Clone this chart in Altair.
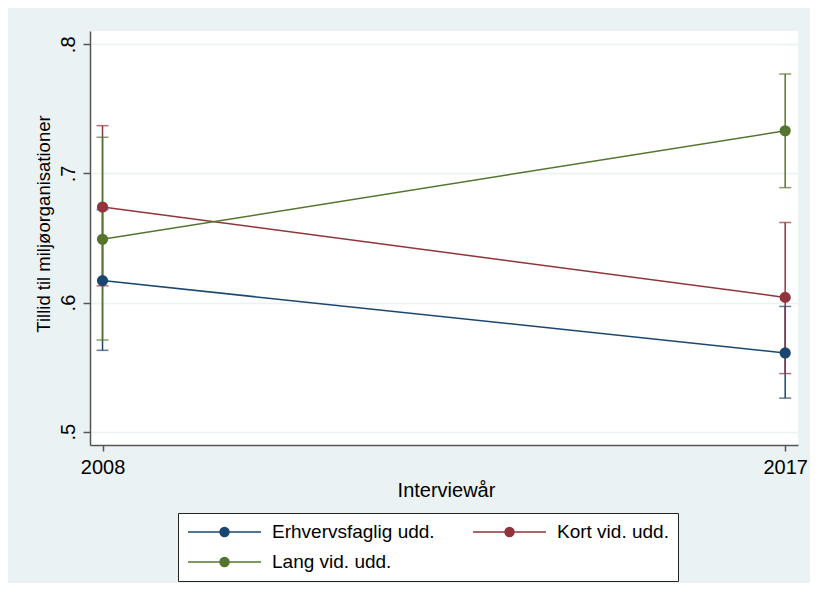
import altair as alt
import pandas as pd

# ---- data ----
years = [2008, 2017]
groups = ["Erhvervsfaglig udd.", "Kort vid. udd.", "Lang vid. udd."]
colors = ["#1a476f", "#90353b", "#55752f"]

erhverv_mean = [0.617, 0.561]
erhverv_lo = [0.563, 0.526]
erhverv_hi = [0.672, 0.597]

kort_mean = [0.674, 0.604]
kort_lo = [0.613, 0.545]
kort_hi = [0.737, 0.662]

lang_mean = [0.649, 0.733]
lang_lo = [0.571, 0.689]
lang_hi = [0.728, 0.777]

y_ticks = [0.5, 0.6, 0.7, 0.8]
x_ticks = [2008, 2017]

# ---- build table ----
rows = []
for g, m, lo, hi in [
    (groups[0], erhverv_mean, erhverv_lo, erhverv_hi),
    (groups[1], kort_mean, kort_lo, kort_hi),
    (groups[2], lang_mean, lang_lo, lang_hi),
]:
    for i, yr in enumerate(years):
        rows.append({"year": yr, "group": g, "mean": m[i], "lo": lo[i], "hi": hi[i]})
df = pd.DataFrame(rows)

FONT = "Liberation Sans"
BG = "#EAF2F3"
AXC = "#555555"

W = 708
H = 414

xscale = alt.Scale(domain=[2007.835, 2017.169], nice=False, zero=False)
yscale = alt.Scale(domain=[0.4897, 0.8103], nice=False, zero=False)

xaxis = alt.Axis(
    values=x_ticks, format="d", grid=False,
    title="Interviewår", titleFontSize=20, titleFontWeight="normal", titleColor="black",
    titleBaseline="alphabetic", titleY=51, titleX=W / 2 + 2, titleAlign="center",
    labelFontSize=20, labelColor="black", labelBaseline="alphabetic", labelPadding=22,
    labelFlush=False, labelOverlap=False,
    tickSize=6, tickColor=AXC, tickWidth=1.5, domainColor=AXC, domainWidth=1.5,
)
yaxis = alt.Axis(
    values=y_ticks, labelExpr="replace(format(datum.value, '.1f'), '0.', '.')",
    labelAngle=270, labelAlign="center", labelBaseline="alphabetic",
    labelFontSize=20, labelColor="black", labelPadding=9,
    tickSize=7, tickColor=AXC, tickWidth=1.5, domainColor=AXC, domainWidth=1.5,
    grid=True, gridColor=BG, gridWidth=1.5,
    title="Tillid til miljøorganisationer", titleFontSize=18.5, titleFontWeight="normal",
    titleColor="black", titleAngle=270, titleX=-41, titleY=192.5,
    titleAlign="center", titleBaseline="alphabetic",
)

sym_path = "M-1,0L7.11,0M2.556,0A0.5,0.5,0,1,1,3.556,0A0.5,0.5,0,1,1,2.556,0Z"
legend = alt.Legend(
    title=None, orient="none", legendX=88, legendY=482, columns=2,
    direction="horizontal",
    symbolType=sym_path, symbolSize=324, symbolStrokeWidth=1.5, symbolOpacity=1,
    labelFontSize=19, labelColor="black", labelLimit=400, labelOffset=65,
    columnPadding=35, rowPadding=10, padding=9,
    strokeColor="#222222", fillColor="white",
)
cscale = alt.Scale(domain=groups, range=colors)
color = alt.Color("group:N", scale=cscale, legend=legend)
stroke = alt.Stroke("group:N", scale=cscale, legend=legend)

x_enc = alt.X("year:Q", scale=xscale, axis=xaxis)


def y_enc(field):
    return alt.Y(f"{field}:Q", scale=yscale, axis=yaxis)


base = alt.Chart(df)

ci = base.mark_rule(strokeWidth=1.5).encode(x=x_enc, y=y_enc("lo"), y2="hi:Q", color=color)
cap_lo = base.mark_tick(orient="horizontal", size=12, thickness=1.5).encode(
    x=x_enc, y=y_enc("lo"), color=color)
cap_hi = base.mark_tick(orient="horizontal", size=12, thickness=1.5).encode(
    x=x_enc, y=y_enc("hi"), color=color)
lines = base.mark_line(strokeWidth=1.5).encode(x=x_enc, y=y_enc("mean"), color=color)
points = base.mark_point(filled=True, size=85, opacity=1).encode(
    x=x_enc, y=y_enc("mean"), color=color, stroke=stroke)

chart = alt.layer(ci, cap_lo, cap_hi, lines, points).properties(
    width=W, height=H,
    autosize=alt.AutoSizeParams(type="none"),
    padding={"left": 82, "top": 23, "right": 802 - 82 - W, "bottom": 575 - 23 - H},
    background=BG,
).configure(font=FONT).configure_view(fill="white", strokeWidth=0)

chart.save("out.html", embed_options={"renderer": "svg", "actions": False})
